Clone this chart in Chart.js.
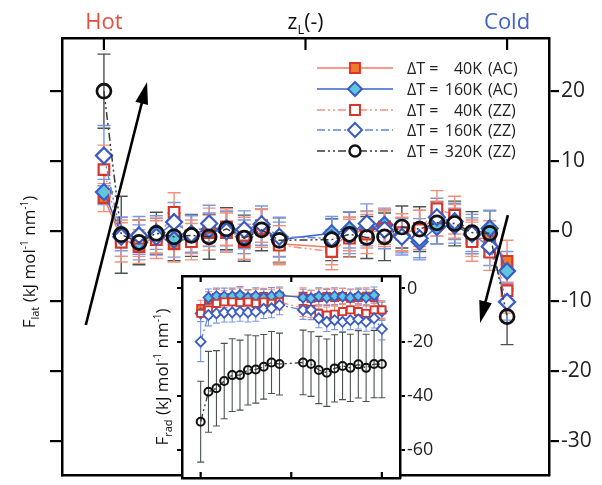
<!DOCTYPE html>
<html>
<head>
<meta charset="utf-8">
<script src="https://cdn.jsdelivr.net/npm/chart.js@4.4.1/dist/chart.umd.min.js"></script>
<style>
  html, body { margin: 0; padding: 0; background: #fff; }
  #wrap { position: relative; width: 602px; height: 485px; }
  #mainChart { position: absolute; left: 0; top: 0; }
  #insetChart { position: absolute; left: 140px; top: 265px; }
</style>
</head>
<body>
<div id="wrap">
  <canvas id="mainChart" width="602" height="485"></canvas>
  <canvas id="insetChart" width="300" height="220"></canvas>
</div>
<script>
// ==================== data ====================

// z_L positions (hot end = 0, cold end = 1)
const zL = [0, 0.043, 0.087, 0.130, 0.174, 0.217, 0.261, 0.304, 0.348, 0.391, 0.435,
            0.565, 0.609, 0.652, 0.696, 0.739, 0.783, 0.826, 0.870, 0.913, 0.957, 1];

// main panel: F_lat
const lat40AC  = [4.8, -1.0, -2.2, -0.6, -1.8, -0.8, -0.2, 0.6, -1.5, 0.8, -1.8, -2.3, -0.4, 0.2, 0.6, -0.4, 0.4, 1.8, 1.4, -1.0, -1.0, -4.3];
const lat160AC = [5.6, -0.4, -1.6, -0.2, -1.2, -0.4, 0.2, 0.4, -0.8, 0.6, -1.2, -0.3, 0.2, 0.4, 0.9, -0.6, -1.5, 0.6, 0.8, -0.5, 0.4, -5.7];
const lat40ZZ  = [8.8, -1.6, -1.0, -1.2, 2.7, -1.5, 0.6, -0.2, -0.6, 0.4, -2.0, -2.9, -1.0, -0.4, 0.4, -0.2, 0.2, 3.2, 2.3, -1.5, -3.0, -8.5];
const lat160ZZ = [10.8, -0.8, -0.6, -0.8, 1.3, -0.4, 1.1, 0.0, 0.2, 1.0, -0.8, -1.0, -0.6, 1.1, 0.2, -0.8, -1.0, 2.0, 1.4, -0.4, -2.2, -10.1];
const lat320ZZ = [20.0, -0.5, -1.6, -0.3, -0.8, -0.6, -0.8, 0.35, -1.0, 0.2, -1.3, -1.2, -0.45, -0.9, -0.8, 0.6, 0.3, 1.2, 1.1, -0.2, -0.3, -12.2];

const latErr40AC  = [2.0, 2.6, 2.4, 2.5, 2.6, 2.4, 2.5, 2.6, 2.5, 2.4, 2.6, 2.5, 2.4, 2.6, 2.5, 2.4, 2.6, 2.5, 2.4, 2.6, 2.5, 3.0];
const latErr160AC = [1.8, 2.4, 2.5, 2.4, 2.5, 2.6, 2.4, 2.5, 2.4, 2.6, 2.5, 2.4, 2.6, 2.5, 2.4, 2.5, 2.6, 2.4, 2.5, 2.4, 2.6, 2.8];
const latErr40ZZ  = [3.5, 2.8, 2.6, 2.7, 2.8, 2.6, 2.7, 2.8, 2.6, 2.7, 2.8, 2.6, 2.7, 2.8, 2.6, 2.7, 2.8, 2.6, 2.7, 2.8, 2.6, 3.2];
const latErr160ZZ = [4.3, 2.8, 2.7, 2.6, 2.8, 2.7, 2.6, 2.8, 2.7, 2.6, 2.8, 2.7, 2.6, 2.8, 2.7, 2.6, 2.8, 2.7, 2.6, 2.8, 2.7, 2.6];
const latErr320ZZ = [5.3, 5.5, 3.2, 3.0, 3.4, 3.0, 3.2, 3.0, 3.3, 3.0, 3.2, 3.0, 3.2, 3.0, 3.4, 3.0, 3.2, 3.0, 3.2, 3.0, 3.2, 4.0];

// inset: F_rad
const rad40AC  = [-7.4, -4.4, -3.4, -4.0, -3.4, -3.0, -3.7, -3.4, -3.0, -3.7, -2.9, -2.9, -3.7, -3.4, -3.0, -3.4, -3.0, -3.7, -3.4, -2.9, -3.4, -8.0];
const rad160AC = [-9.3, -3.4, -2.9, -3.0, -2.9, -2.5, -3.4, -2.9, -3.4, -2.9, -2.5, -3.4, -3.7, -3.0, -3.4, -2.9, -3.0, -3.4, -2.9, -3.4, -2.5, -8.5];
const rad40ZZ  = [-9.3, -8.0, -5.6, -5.0, -5.0, -5.3, -5.0, -5.6, -5.0, -5.6, -5.0, -7.4, -7.7, -9.3, -9.9, -9.6, -8.6, -8.0, -8.6, -9.3, -8.0, -8.0];
const rad160ZZ = [-19.8, -9.9, -9.3, -9.0, -8.9, -8.7, -8.9, -8.7, -7.6, -7.4, -6.2, -8.0, -8.0, -11.1, -12.4, -11.8, -12.4, -11.8, -11.5, -12.4, -11.1, -15.1];
const rad320ZZ = [-49.5, -38.4, -37.1, -34.4, -32.2, -32.2, -30.3, -30.1, -29.1, -27.5, -28.1, -27.5, -28.1, -30.3, -31.3, -29.7, -28.8, -29.5, -28.2, -29.5, -28.1, -28.1];

const radErrColor = [3.0, 3.2, 3.0, 3.1, 3.0, 3.2, 3.0, 3.1, 3.0, 3.2, 3.0, 3.1, 3.0, 3.2, 3.0, 3.1, 3.0, 3.2, 3.0, 3.1, 3.0, 3.4];
const radErr160ZZ = [7.4, 4.0, 3.6, 3.5, 3.6, 3.5, 3.6, 3.5, 3.6, 3.5, 3.6, 3.5, 3.6, 3.5, 3.6, 3.5, 3.6, 3.5, 3.6, 3.5, 3.6, 4.0];
const radErr320ZZ = [15, 15, 14, 14, 13.5, 13, 13, 12.5, 12, 11.5, 11.5, 12, 12, 12.5, 12.5, 12.5, 12.5, 12.5, 12.5, 12.5, 12.5, 12.5];

// axes
const latTicks = [20, 10, 0, -10, -20, -30];
const radTicks = [0, -20, -40, -60];
const zTicks = [0, 0.5, 1];

// arrows in data units: [x0, y0, x1(tip), y1(tip)]
const arrowUp = [-0.045, -13.4, 0.107, 21.3];
const arrowDown = [1.002, 2.3, 0.933, -13.1];

const legendLabels = [
  ["40K", "(AC)"], ["160K", "(AC)"], ["40K", "(ZZ)"], ["160K", "(ZZ)"], ["320K", "(ZZ)"]
];

// ==================== styles ====================

const FONT = "'Open Sans', 'DejaVu Sans', sans-serif";
const RED_LINE = "#ee7c62";
const RED_EDGE = "#d9362b";
const BLUE_LINE = "#3b63c8";
const BLUE_EDGE = "#3a5cc4";
const DARK = "#3a3a3a";

const seriesStyles = [
  { dash: [],              line: RED_LINE,  shape: "rect",    fill: "#f07a2c", edge: RED_EDGE,  err: "#f2917a" },
  { dash: [],              line: BLUE_LINE, shape: "rectRot", fill: "#5fc6de", edge: BLUE_EDGE, err: "#7896e2" },
  { dash: [8, 3, 2, 3, 2, 3], line: "#f0937f", shape: "rect",    fill: "#ffffff", edge: RED_EDGE,  err: "#f2917a" },
  { dash: [8, 3, 2, 3],    line: "#5f86dc", shape: "rectRot", fill: "#ffffff", edge: BLUE_EDGE, err: "#7896e2" },
  { dash: [8, 3, 2, 3, 2, 3], line: DARK,      shape: "circle",  fill: "rgba(0,0,0,0)", edge: "#111", err: "#4a524f" },
];

function toPoints(values) {
  return zL.map((x, i) => ({ x, y: values[i] }));
}

function makeDataset(values, errors, k, sizes) {
  const s = seriesStyles[k];
  const isCircle = s.shape === "circle";
  return {
    data: toPoints(values),
    errors,
    errColor: s.err,
    borderColor: s.line,
    borderWidth: sizes.line,
    borderDash: s.dash,
    pointStyle: s.shape,
    pointRadius: isCircle ? sizes.circle : (s.shape === "rect" ? sizes.rect : sizes.diamond),
    pointBackgroundColor: s.fill,
    pointBorderColor: s.edge,
    pointBorderWidth: isCircle ? sizes.circleEdge : sizes.edge,
    tension: 0,
    order: 4 - k,
  };
}

// ==================== plugins ====================

const errorBars = {
  id: "errorBars",
  beforeDatasetsDraw(chart, args, opts) {
    const { ctx, chartArea } = chart;
    const ys = chart.scales.y;
    ctx.save();
    ctx.beginPath();
    ctx.rect(chartArea.left, chartArea.top, chartArea.right - chartArea.left, chartArea.bottom - chartArea.top);
    ctx.clip();
    for (let di = chart.data.datasets.length - 1; di >= 0; di--) {
      const ds = chart.data.datasets[di];
      const meta = chart.getDatasetMeta(di);
      ctx.strokeStyle = ds.errColor;
      ctx.lineWidth = opts.width;
      ctx.beginPath();
      meta.data.forEach((pt, i) => {
        const v = ds.data[i].y, e = ds.errors[i];
        const top = ys.getPixelForValue(v + e);
        const bot = ys.getPixelForValue(v - e);
        ctx.moveTo(pt.x, top); ctx.lineTo(pt.x, bot);
        ctx.moveTo(pt.x - opts.cap, top); ctx.lineTo(pt.x + opts.cap, top);
        ctx.moveTo(pt.x - opts.cap, bot); ctx.lineTo(pt.x + opts.cap, bot);
      });
      ctx.stroke();
    }
    ctx.restore();
  },
};

// inward ticks on top/bottom frame
const innerTicks = {
  id: "innerTicks",
  afterDraw(chart, args, opts) {
    const { ctx, chartArea } = chart;
    const xs = chart.scales.x;
    ctx.save();
    ctx.strokeStyle = "#000";
    ctx.lineWidth = 2.2;
    ctx.beginPath();
    zTicks.forEach((z) => {
      const px = xs.getPixelForValue(z);
      if (opts.top) { ctx.moveTo(px, chartArea.top); ctx.lineTo(px, chartArea.top + opts.len); }
      if (opts.bottom) { ctx.moveTo(px, chartArea.bottom); ctx.lineTo(px, chartArea.bottom - opts.len); }
    });
    ctx.stroke();
    ctx.restore();
  },
};

const whiteArea = {
  id: "whiteArea",
  beforeDraw(chart) {
    const { ctx, chartArea } = chart;
    ctx.save();
    ctx.fillStyle = "#fff";
    ctx.fillRect(chartArea.left, chartArea.top, chartArea.right - chartArea.left, chartArea.bottom - chartArea.top);
    ctx.restore();
  },
};

// text with sub/superscripts: runs = [[text, size, dy], ...]
function drawRuns(ctx, runs, x, y, rot, color, align) {
  ctx.save();
  ctx.translate(x, y);
  ctx.rotate(rot);
  ctx.fillStyle = color;
  ctx.textBaseline = "alphabetic";
  ctx.textAlign = "left";
  let total = 0;
  const widths = runs.map(([t, size]) => {
    ctx.font = size + "px " + FONT;
    const w = ctx.measureText(t).width;
    total += w;
    return w;
  });
  let cx = align === "center" ? -total / 2 : 0;
  runs.forEach(([t, size, dy], i) => {
    ctx.font = size + "px " + FONT;
    ctx.fillText(t, cx, dy);
    cx += widths[i];
  });
  ctx.restore();
}

function drawMarker(ctx, shape, x, y, r) {
  ctx.beginPath();
  if (shape === "rect") {
    const s = r * Math.SQRT1_2;
    ctx.rect(x - s, y - s, 2 * s, 2 * s);
  } else if (shape === "rectRot") {
    ctx.moveTo(x - r, y); ctx.lineTo(x, y - r); ctx.lineTo(x + r, y); ctx.lineTo(x, y + r); ctx.closePath();
  } else {
    ctx.arc(x, y, r, 0, Math.PI * 2);
  }
}

function drawArrow(ctx, xs, ys, a) {
  const x0 = xs.getPixelForValue(a[0]), y0 = ys.getPixelForValue(a[1]);
  const x1 = xs.getPixelForValue(a[2]), y1 = ys.getPixelForValue(a[3]);
  const ang = Math.atan2(y1 - y0, x1 - x0);
  const head = 22, half = 6.5;
  const bx = x1 - head * Math.cos(ang), by = y1 - head * Math.sin(ang);
  ctx.save();
  ctx.strokeStyle = "#000";
  ctx.fillStyle = "#000";
  ctx.lineWidth = 2.6;
  ctx.beginPath();
  ctx.moveTo(x0, y0);
  ctx.lineTo(bx + 4 * Math.cos(ang), by + 4 * Math.sin(ang));
  ctx.stroke();
  ctx.beginPath();
  ctx.moveTo(x1, y1);
  ctx.lineTo(bx - half * Math.sin(ang), by + half * Math.cos(ang));
  ctx.lineTo(bx + half * Math.sin(ang), by - half * Math.cos(ang));
  ctx.closePath();
  ctx.fill();
  ctx.restore();
}

const mainDecor = {
  id: "mainDecor",
  afterDraw(chart) {
    const { ctx } = chart;
    const xs = chart.scales.x, ys = chart.scales.y;

    // top labels
    drawRuns(ctx, [["Hot", 22, 0]], xs.getPixelForValue(0), 29, 0, "#e0503c", "center");
    drawRuns(ctx, [["z", 21, 0], ["L", 13, 5], ["(-)", 21, 0]], xs.getPixelForValue(0.5), 29, 0, "#111", "center");
    drawRuns(ctx, [["Cold", 22, 0]], xs.getPixelForValue(1), 29, 0, "#3d62c8", "center");

    // y title
    drawRuns(ctx, [["F", 17, 0], ["lat", 11, 4], [" (kJ mol", 17, 0], ["-1", 10, -7],
                   [" nm", 17, 0], ["-1", 10, -7], [")", 17, 0]],
             35, 262, -Math.PI / 2, "#111", "center");

    drawArrow(ctx, xs, ys, arrowUp);
    drawArrow(ctx, xs, ys, arrowDown);

    // legend
    const rowY = [68, 89, 110, 130, 151];
    seriesStyles.forEach((s, k) => {
      const y = rowY[k];
      ctx.save();
      ctx.strokeStyle = s.line;
      ctx.lineWidth = 1.6;
      ctx.setLineDash(s.dash);
      ctx.beginPath(); ctx.moveTo(317, y); ctx.lineTo(393, y); ctx.stroke();
      ctx.setLineDash([]);
      const r = s.shape === "circle" ? 5.5 : 7;
      drawMarker(ctx, s.shape, 355, y, r);
      ctx.fillStyle = s.shape === "circle" ? "#fff" : s.fill;
      ctx.fill();
      ctx.strokeStyle = s.edge;
      ctx.lineWidth = s.shape === "circle" ? 2.4 : 2;
      ctx.stroke();
      ctx.fillStyle = "#222";
      ctx.font = "16px " + FONT;
      ctx.textBaseline = "alphabetic";
      ctx.textAlign = "left";
      ctx.fillText("\u0394T =", 407, y + 6);
      ctx.textAlign = "right";
      ctx.fillText(legendLabels[k][0], 482, y + 6);
      ctx.textAlign = "left";
      ctx.fillText(legendLabels[k][1], 488, y + 6);
      ctx.restore();
    });
  },
};

const insetDecor = {
  id: "insetDecor",
  afterDraw(chart) {
    drawRuns(chart.ctx, [["F", 17, 0], ["rad", 11, 4], [" (kJ mol", 17, 0], ["-1", 10, -7],
                         [" nm", 17, 0], ["-1", 10, -7], [")", 17, 0]],
             28, 112, -Math.PI / 2, "#111", "center");
  },
};

// ==================== charts ====================

function fixedTicks(values) {
  return (scale) => { scale.ticks = values.map((v) => ({ value: v })); };
}

function fixedWidth(w) {
  return (s) => { s.width = w; s.paddingTop = 0; s.paddingBottom = 0; };
}

function fixedHeight(h) {
  return (s) => { s.height = h; s.paddingLeft = 0; s.paddingRight = 0; };
}

function frameScale(extra) {
  return Object.assign({
    type: "linear",
    ticks: { display: false },
    grid: { display: false },
    border: { display: true, color: "#000", width: 2.5 },
  }, extra);
}

const mainSizes = { line: 1.5, rect: 7.5, diamond: 8, circle: 7, edge: 2.2, circleEdge: 2.7 };

new Chart(document.getElementById("mainChart"), {
  type: "line",
  data: {
    datasets: [
      makeDataset(lat40AC, latErr40AC, 0, mainSizes),
      makeDataset(lat160AC, latErr160AC, 1, mainSizes),
      makeDataset(lat40ZZ, latErr40ZZ, 2, mainSizes),
      makeDataset(lat160ZZ, latErr160ZZ, 3, mainSizes),
      makeDataset(lat320ZZ, latErr320ZZ, 4, mainSizes),
    ],
  },
  options: {
    responsive: false,
    animation: false,
    events: [],
    layout: { padding: 0 },
    plugins: {
      legend: { display: false },
      tooltip: { enabled: false },
      errorBars: { width: 1.4, cap: 6.5 },
      innerTicks: { top: true, bottom: false, len: 12 },
    },
    scales: {
      x: frameScale({ position: "bottom", min: -0.104, max: 1.104, afterFit: fixedHeight(3) }),
      xTop: frameScale({ position: "top", min: -0.104, max: 1.104, afterFit: fixedHeight(38) }),
      y: frameScale({
        position: "left", min: -34.8, max: 27.6,
        afterBuildTicks: fixedTicks(latTicks),
        grid: { display: true, drawOnChartArea: false, drawTicks: true, tickLength: 12, color: "#000", lineWidth: 2.2 },
        afterFit: fixedWidth(62),
      }),
      y2: frameScale({
        position: "right", min: -34.8, max: 27.6,
        afterBuildTicks: fixedTicks(latTicks),
        ticks: { display: true, color: "#222", padding: 2, font: { family: FONT, size: 21 } },
        grid: { display: true, drawOnChartArea: false, drawTicks: true, tickLength: 10, color: "#000", lineWidth: 2.2 },
        afterFit: fixedWidth(53),
      }),
    },
  },
  plugins: [errorBars, innerTicks, mainDecor],
});

const insetSizes = { line: 1.3, rect: 5, diamond: 5, circle: 4, edge: 1.8, circleEdge: 2 };

new Chart(document.getElementById("insetChart"), {
  type: "line",
  data: {
    datasets: [
      makeDataset(rad40AC, radErrColor, 0, insetSizes),
      makeDataset(rad160AC, radErrColor, 1, insetSizes),
      makeDataset(rad40ZZ, radErrColor, 2, insetSizes),
      makeDataset(rad160ZZ, radErr160ZZ, 3, insetSizes),
      makeDataset(rad320ZZ, radErr320ZZ, 4, insetSizes),
    ],
  },
  options: {
    responsive: false,
    animation: false,
    events: [],
    layout: { padding: 0 },
    plugins: {
      legend: { display: false },
      tooltip: { enabled: false },
      errorBars: { width: 1.1, cap: 3.5 },
      innerTicks: { top: true, bottom: true, len: 6 },
    },
    scales: {
      x: frameScale({ position: "bottom", min: -0.103, max: 1.1, afterFit: fixedHeight(7) }),
      xTop: frameScale({ position: "top", min: -0.103, max: 1.1, afterFit: fixedHeight(11) }),
      y: frameScale({
        position: "left", min: -70.4, max: 4.6,
        afterBuildTicks: fixedTicks(radTicks),
        grid: { display: true, drawOnChartArea: false, drawTicks: true, tickLength: 5, color: "#000", lineWidth: 2 },
        afterFit: fixedWidth(42),
      }),
      y2: frameScale({
        position: "right", min: -70.4, max: 4.6,
        afterBuildTicks: fixedTicks(radTicks),
        ticks: { display: true, color: "#222", padding: 2, font: { family: FONT, size: 18 } },
        grid: { display: true, drawOnChartArea: false, drawTicks: true, tickLength: 5, color: "#000", lineWidth: 2 },
        afterFit: fixedWidth(40),
      }),
    },
  },
  plugins: [whiteArea, errorBars, innerTicks, insetDecor],
});
</script>
</body>
</html>
